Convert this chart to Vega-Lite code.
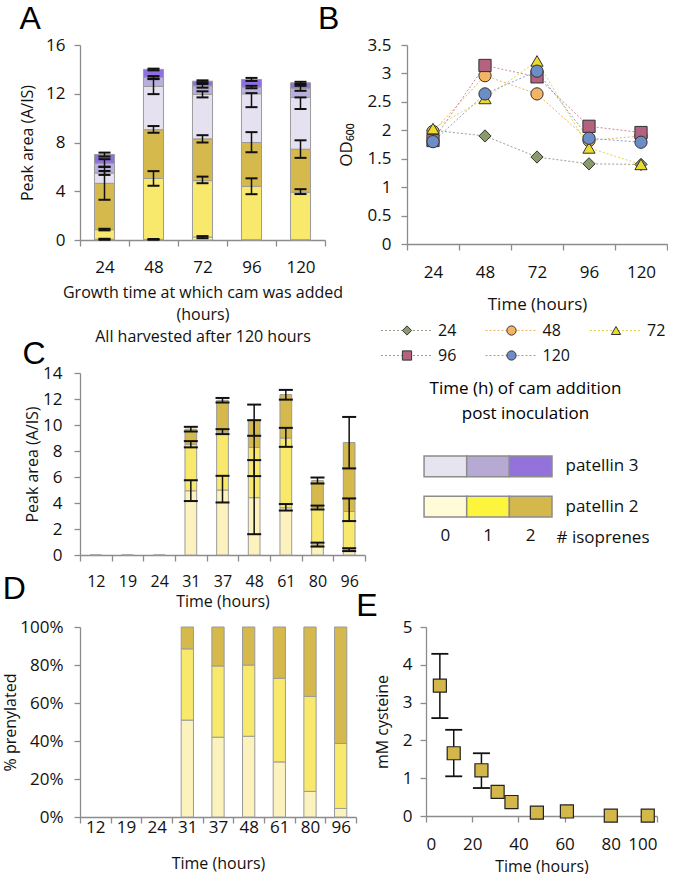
{
  "$schema": "https://vega.github.io/schema/vega-lite/v6.json",
  "padding": {"left": 2, "top": 3, "right": 0, "bottom": 0},
  "background": "white",
  "config": {
    "font": "Open Sans",
    "view": {"stroke": null},
    "axis": {"labelFont": "Open Sans", "titleFont": "Open Sans", "labelFontSize": 16, "titleFontSize": 16, "titleFontWeight": "normal", "labelColor": "#111", "titleColor": "#111", "domainColor": "#8c8c8c", "tickColor": "#8c8c8c", "grid": false, "tickSize": 6, "domainWidth": 1.3, "tickWidth": 1.3, "labelAngle": 0, "labelOverlap": false},
    "title": {"font": "Liberation Sans", "fontSize": 32, "fontWeight": "normal", "anchor": "start", "frame": "bounds", "color": "#000"}
  },
  "datasets": {
    "a": [
      {"time": "24", "seg": "p2_0", "order": 0, "value": 0.06, "lo": 0.02, "hi": 0.1},
      {"time": "24", "seg": "p2_1", "order": 1, "value": 0.79, "lo": 0.79, "hi": 0.92},
      {"time": "24", "seg": "p2_2", "order": 2, "value": 3.8, "lo": 3.3, "hi": 6.0},
      {"time": "24", "seg": "p3_0", "order": 3, "value": 0.85, "lo": 5.34, "hi": 5.66},
      {"time": "24", "seg": "p3_1", "order": 4, "value": 0.8, "lo": 6.01, "hi": 6.63},
      {"time": "24", "seg": "p3_2", "order": 5, "value": 0.72, "lo": 6.85, "hi": 7.17},
      {"time": "48", "seg": "p2_0", "order": 0, "value": 0.05, "lo": 0.02, "hi": 0.08},
      {"time": "48", "seg": "p2_1", "order": 1, "value": 5.0, "lo": 4.45, "hi": 5.65},
      {"time": "48", "seg": "p2_2", "order": 2, "value": 4.0, "lo": 8.8, "hi": 9.35},
      {"time": "48", "seg": "p3_0", "order": 3, "value": 3.55, "lo": 11.97, "hi": 13.2},
      {"time": "48", "seg": "p3_1", "order": 4, "value": 0.75, "lo": 13.25, "hi": 13.45},
      {"time": "48", "seg": "p3_2", "order": 5, "value": 0.65, "lo": 13.92, "hi": 14.06},
      {"time": "72", "seg": "p2_0", "order": 0, "value": 0.24, "lo": 0.15, "hi": 0.32},
      {"time": "72", "seg": "p2_1", "order": 1, "value": 4.63, "lo": 4.66, "hi": 5.2},
      {"time": "72", "seg": "p2_2", "order": 2, "value": 3.43, "lo": 8.0, "hi": 8.6},
      {"time": "72", "seg": "p3_0", "order": 3, "value": 3.65, "lo": 11.7, "hi": 12.2},
      {"time": "72", "seg": "p3_1", "order": 4, "value": 0.7, "lo": 12.5, "hi": 12.8},
      {"time": "72", "seg": "p3_2", "order": 5, "value": 0.38, "lo": 12.95, "hi": 13.1},
      {"time": "96", "seg": "p2_0", "order": 0, "value": 0.02, "lo": null, "hi": null},
      {"time": "96", "seg": "p2_1", "order": 1, "value": 4.38, "lo": 3.76, "hi": 5.06},
      {"time": "96", "seg": "p2_2", "order": 2, "value": 3.6, "lo": 7.2, "hi": 8.85},
      {"time": "96", "seg": "p3_0", "order": 3, "value": 4.0, "lo": 10.9, "hi": 12.05},
      {"time": "96", "seg": "p3_1", "order": 4, "value": 0.55, "lo": 12.45, "hi": 12.65},
      {"time": "96", "seg": "p3_2", "order": 5, "value": 0.62, "lo": 13.05, "hi": 13.3},
      {"time": "120", "seg": "p2_0", "order": 0, "value": 0.02, "lo": null, "hi": null},
      {"time": "120", "seg": "p2_1", "order": 1, "value": 3.9, "lo": 3.77, "hi": 4.17},
      {"time": "120", "seg": "p2_2", "order": 2, "value": 3.53, "lo": 6.74, "hi": 8.18},
      {"time": "120", "seg": "p3_0", "order": 3, "value": 4.25, "lo": 10.75, "hi": 11.7},
      {"time": "120", "seg": "p3_1", "order": 4, "value": 0.75, "lo": 12.24, "hi": 12.65},
      {"time": "120", "seg": "p3_2", "order": 5, "value": 0.45, "lo": 12.8, "hi": 12.98}
    ],
    "b": [
      {"series": "24", "time": "24", "od": 2.0}, {"series": "24", "time": "48", "od": 1.9}, {"series": "24", "time": "72", "od": 1.53}, {"series": "24", "time": "96", "od": 1.41}, {"series": "24", "time": "120", "od": 1.4},
      {"series": "48", "time": "24", "od": 1.98}, {"series": "48", "time": "48", "od": 2.96}, {"series": "48", "time": "72", "od": 2.64}, {"series": "48", "time": "96", "od": 1.82}, {"series": "48", "time": "120", "od": 1.9},
      {"series": "72", "time": "24", "od": 2.03}, {"series": "72", "time": "48", "od": 2.56}, {"series": "72", "time": "72", "od": 3.22}, {"series": "72", "time": "96", "od": 1.69}, {"series": "72", "time": "120", "od": 1.4},
      {"series": "96", "time": "24", "od": 1.82}, {"series": "96", "time": "48", "od": 3.14}, {"series": "96", "time": "72", "od": 2.94}, {"series": "96", "time": "96", "od": 2.07}, {"series": "96", "time": "120", "od": 1.96},
      {"series": "120", "time": "24", "od": 1.8}, {"series": "120", "time": "48", "od": 2.64}, {"series": "120", "time": "72", "od": 3.04}, {"series": "120", "time": "96", "od": 1.86}, {"series": "120", "time": "120", "od": 1.79}
    ],
    "bleg": [
      {"series": "24", "row": 1, "col": 1}, {"series": "48", "row": 1, "col": 2}, {"series": "72", "row": 1, "col": 3},
      {"series": "96", "row": 2, "col": 1}, {"series": "120", "row": 2, "col": 2}
    ],
    "hm": [
      {"protein": "patellin 3", "iso": "0", "key": "p3_0"}, {"protein": "patellin 3", "iso": "1", "key": "p3_1"}, {"protein": "patellin 3", "iso": "2", "key": "p3_2"},
      {"protein": "patellin 2", "iso": "0", "key": "p2_0"}, {"protein": "patellin 2", "iso": "1", "key": "p2_1"}, {"protein": "patellin 2", "iso": "2", "key": "p2_2"}
    ],
    "c": [
      {"time": "12", "seg": "p2_0", "order": 0, "value": 0, "lo": null, "hi": null},
      {"time": "19", "seg": "p2_0", "order": 0, "value": 0, "lo": null, "hi": null},
      {"time": "24", "seg": "p2_0", "order": 0, "value": 0, "lo": null, "hi": null},
      {"time": "31", "seg": "p2_0", "order": 0, "value": 4.94, "lo": 4.15, "hi": 5.75},
      {"time": "31", "seg": "p2_1", "order": 1, "value": 3.58, "lo": 8.28, "hi": 8.76},
      {"time": "31", "seg": "p2_2", "order": 2, "value": 1.16, "lo": 9.5, "hi": 9.86},
      {"time": "37", "seg": "p2_0", "order": 0, "value": 5.0, "lo": 4.04, "hi": 6.09},
      {"time": "37", "seg": "p2_1", "order": 1, "value": 4.46, "lo": 9.3, "hi": 9.68},
      {"time": "37", "seg": "p2_2", "order": 2, "value": 2.44, "lo": 11.73, "hi": 12.08},
      {"time": "48", "seg": "p2_0", "order": 0, "value": 4.41, "lo": 1.6, "hi": 7.3},
      {"time": "48", "seg": "p2_1", "order": 1, "value": 3.86, "lo": 6.07, "hi": 10.37},
      {"time": "48", "seg": "p2_2", "order": 2, "value": 2.1, "lo": 9.17, "hi": 11.57},
      {"time": "61", "seg": "p2_0", "order": 0, "value": 3.63, "lo": 3.42, "hi": 3.92},
      {"time": "61", "seg": "p2_1", "order": 1, "value": 5.37, "lo": 8.32, "hi": 9.78},
      {"time": "61", "seg": "p2_2", "order": 2, "value": 3.34, "lo": 11.95, "hi": 12.7},
      {"time": "80", "seg": "p2_0", "order": 0, "value": 0.77, "lo": 0.65, "hi": 0.95},
      {"time": "80", "seg": "p2_1", "order": 1, "value": 2.87, "lo": 3.5, "hi": 3.8},
      {"time": "80", "seg": "p2_2", "order": 2, "value": 2.08, "lo": 5.5, "hi": 5.96},
      {"time": "96", "seg": "p2_0", "order": 0, "value": 0.39, "lo": 0.3, "hi": 0.52},
      {"time": "96", "seg": "p2_1", "order": 1, "value": 2.96, "lo": 2.61, "hi": 4.35},
      {"time": "96", "seg": "p2_2", "order": 2, "value": 5.3, "lo": 6.66, "hi": 10.62}
    ],
    "d": [
      {"time": "31", "seg": "p2_0", "order": 0, "pct": 0.51}, {"time": "31", "seg": "p2_1", "order": 1, "pct": 0.375}, {"time": "31", "seg": "p2_2", "order": 2, "pct": 0.115},
      {"time": "37", "seg": "p2_0", "order": 0, "pct": 0.42}, {"time": "37", "seg": "p2_1", "order": 1, "pct": 0.375}, {"time": "37", "seg": "p2_2", "order": 2, "pct": 0.205},
      {"time": "48", "seg": "p2_0", "order": 0, "pct": 0.425}, {"time": "48", "seg": "p2_1", "order": 1, "pct": 0.375}, {"time": "48", "seg": "p2_2", "order": 2, "pct": 0.2},
      {"time": "61", "seg": "p2_0", "order": 0, "pct": 0.29}, {"time": "61", "seg": "p2_1", "order": 1, "pct": 0.44}, {"time": "61", "seg": "p2_2", "order": 2, "pct": 0.27},
      {"time": "80", "seg": "p2_0", "order": 0, "pct": 0.135}, {"time": "80", "seg": "p2_1", "order": 1, "pct": 0.5}, {"time": "80", "seg": "p2_2", "order": 2, "pct": 0.365},
      {"time": "96", "seg": "p2_0", "order": 0, "pct": 0.045}, {"time": "96", "seg": "p2_1", "order": 1, "pct": 0.342}, {"time": "96", "seg": "p2_2", "order": 2, "pct": 0.613}
    ],
    "e": [
      {"t": 6, "cys": 3.45, "lo": 2.59, "hi": 4.29},
      {"t": 12, "cys": 1.66, "lo": 1.05, "hi": 2.28},
      {"t": 24, "cys": 1.21, "lo": 0.74, "hi": 1.66},
      {"t": 31, "cys": 0.64, "lo": null, "hi": null},
      {"t": 37, "cys": 0.37, "lo": null, "hi": null},
      {"t": 48, "cys": 0.09, "lo": null, "hi": null},
      {"t": 61, "cys": 0.12, "lo": null, "hi": null},
      {"t": 80, "cys": 0.01, "lo": null, "hi": null},
      {"t": 96, "cys": 0.01, "lo": null, "hi": null}
    ]
  },
  "resolve": {"scale": {"fill": "independent", "stroke": "independent", "shape": "independent", "color": "independent"}},
  "spacing": -36,
  "vconcat": [
    {
      "resolve": {"scale": {"fill": "independent", "stroke": "independent", "shape": "independent", "color": "independent"}},
      "spacing": -48,
      "hconcat": [
        {
          "resolve": {"scale": {"fill": "independent", "stroke": "independent", "shape": "independent", "color": "independent"}},
          "spacing": -6,
          "vconcat": [
            {
              "title": {"text": "A", "offset": 0},
              "width": 245, "height": 195,
              "data": {"name": "a"},
              "encoding": {
                "x": {"field": "time", "type": "ordinal", "sort": ["24", "48", "72", "96", "120"], "scale": {"type": "band", "paddingInner": 0, "paddingOuter": 0},
                  "axis": {"tickBand": "extent", "labelPadding": 13, "labelFontSize": 17, "title": ["Growth time at which cam was added", "(hours)", "All harvested after 120 hours"], "titlePadding": 9, "titleLineHeight": 22}}
              },
              "layer": [
                {"mark": {"type": "bar", "width": {"band": 0.41}, "stroke": "#9a9a9a", "strokeWidth": 1},
                 "encoding": {
                   "y": {"field": "value", "type": "quantitative", "stack": "zero", "title": "Peak area (A/IS)", "scale": {"domain": [0, 16]}, "axis": {"values": [0, 4, 8, 12, 16], "labelPadding": 9, "titlePadding": 10, "labelFontSize": 17}},
                   "order": {"field": "order", "type": "quantitative"},
                   "fill": {"field": "seg", "type": "nominal", "scale": {"domain": ["p2_0", "p2_1", "p2_2", "p3_0", "p3_1", "p3_2"], "range": ["#fbf2bd", "#f8e96c", "#d5b94c", "#e5e1f1", "#b9afdb", "#8f70e0"]}, "legend": null}
                 }},
                {"transform": [{"filter": "datum.lo != null"}], "mark": {"type": "rule", "color": "#111", "strokeWidth": 1.5},
                 "encoding": {"y": {"field": "lo", "type": "quantitative", "title": "Peak area (A/IS)", "axis": {"values": [0, 4, 8, 12, 16], "labelPadding": 9, "titlePadding": 10, "labelFontSize": 17}}, "y2": {"field": "hi"}}},
                {"transform": [{"filter": "datum.lo != null"}], "mark": {"type": "tick", "color": "#111", "thickness": 2, "size": 12, "opacity": 1},
                 "encoding": {"y": {"field": "lo", "type": "quantitative", "title": "Peak area (A/IS)", "axis": {"values": [0, 4, 8, 12, 16], "labelPadding": 9, "titlePadding": 10, "labelFontSize": 17}}}},
                {"transform": [{"filter": "datum.lo != null"}], "mark": {"type": "tick", "color": "#111", "thickness": 2, "size": 12, "opacity": 1},
                 "encoding": {"y": {"field": "hi", "type": "quantitative", "title": "Peak area (A/IS)", "axis": {"values": [0, 4, 8, 12, 16], "labelPadding": 9, "titlePadding": 10, "labelFontSize": 17}}}}
              ]
            },
            {
              "title": {"text": "C", "offset": -7, "dx": -2},
              "width": 285, "height": 182,
              "data": {"name": "c"},
              "encoding": {
                "x": {"field": "time", "type": "ordinal", "sort": ["12", "19", "24", "31", "37", "48", "61", "80", "96"], "scale": {"type": "band", "paddingInner": 0, "paddingOuter": 0},
                  "axis": {"tickBand": "extent", "labelPadding": 12, "labelFontSize": 16, "title": "Time (hours)", "titlePadding": 4}}
              },
              "layer": [
                {"mark": {"type": "bar", "width": {"band": 0.37}, "stroke": "#9a9a9a", "strokeWidth": 1},
                 "encoding": {
                   "y": {"field": "value", "type": "quantitative", "stack": "zero", "title": "Peak area (A/IS)", "scale": {"domain": [0, 14]}, "axis": {"values": [0, 2, 4, 6, 8, 10, 12, 14], "labelPadding": 12, "titlePadding": 2, "labelFontSize": 17}},
                   "order": {"field": "order", "type": "quantitative"},
                   "fill": {"field": "seg", "type": "nominal", "scale": {"domain": ["p2_0", "p2_1", "p2_2"], "range": ["#fbf2bd", "#f8e96c", "#d5b94c"]}, "legend": null}
                 }},
                {"transform": [{"filter": "datum.lo != null"}], "mark": {"type": "rule", "color": "#111", "strokeWidth": 1.5},
                 "encoding": {"y": {"field": "lo", "type": "quantitative", "title": "Peak area (A/IS)", "axis": {"values": [0, 2, 4, 6, 8, 10, 12, 14], "labelPadding": 12, "titlePadding": 2, "labelFontSize": 17}}, "y2": {"field": "hi"}}},
                {"transform": [{"filter": "datum.lo != null"}], "mark": {"type": "tick", "color": "#111", "thickness": 2, "size": 14, "opacity": 1},
                 "encoding": {"y": {"field": "lo", "type": "quantitative", "title": "Peak area (A/IS)", "axis": {"values": [0, 2, 4, 6, 8, 10, 12, 14], "labelPadding": 12, "titlePadding": 2, "labelFontSize": 17}}}},
                {"transform": [{"filter": "datum.lo != null"}], "mark": {"type": "tick", "color": "#111", "thickness": 2, "size": 14, "opacity": 1},
                 "encoding": {"y": {"field": "hi", "type": "quantitative", "title": "Peak area (A/IS)", "axis": {"values": [0, 2, 4, 6, 8, 10, 12, 14], "labelPadding": 12, "titlePadding": 2, "labelFontSize": 17}}}}
              ]
            }
          ]
        },
        {
          "resolve": {"scale": {"fill": "independent", "stroke": "independent", "shape": "independent", "color": "independent"}},
          "spacing": 6,
          "vconcat": [
            {
              "title": {"text": "B", "offset": 0, "dx": -19},
              "width": 260, "height": 199,
              "data": {"name": "b"},
              "encoding": {
                "x": {"field": "time", "type": "ordinal", "sort": ["24", "48", "72", "96", "120"], "scale": {"type": "band", "paddingInner": 0, "paddingOuter": 0},
                  "axis": {"tickBand": "extent", "labelPadding": 14, "labelFontSize": 17, "title": "Time (hours)", "titlePadding": 16, "titleFontSize": 17}},
                "y": {"field": "od", "type": "quantitative", "title": "OD₆₀₀", "scale": {"domain": [0, 3.5]}, "axis": {"values": [0, 0.5, 1, 1.5, 2, 2.5, 3, 3.5], "format": "~g", "labelPadding": 10, "titlePadding": 12, "labelFontSize": 17, "titleFontSize": 17}}
              },
              "layer": [
                {"mark": {"type": "line", "strokeWidth": 1, "strokeDash": [2, 2]},
                 "encoding": {"stroke": {"field": "series", "type": "nominal", "scale": {"domain": ["24", "48", "72", "96", "120"], "range": ["#9aa08a", "#f0b468", "#e4d64a", "#c7889f", "#8aa2cf"]}, "legend": null}}},
                {"mark": {"type": "point", "filled": true, "stroke": "#333", "strokeWidth": 1, "size": 150, "opacity": 1},
                 "encoding": {
                   "shape": {"field": "series", "type": "nominal", "scale": {"domain": ["24", "48", "72", "96", "120"], "range": ["diamond", "circle", "triangle-up", "square", "circle"]}, "legend": null},
                   "fill": {"field": "series", "type": "nominal", "scale": {"domain": ["24", "48", "72", "96", "120"], "range": ["#8b9a6b", "#f3b464", "#e9dc2c", "#b3627f", "#6d8dc6"]}, "legend": null}
                 }}
              ]
            },
            {
              "width": 209, "height": 56,
              "data": {"name": "bleg"},
              "encoding": {
                "x": {"field": "col", "type": "ordinal", "scale": {"type": "point", "padding": 0}, "axis": null},
                "y": {"field": "row", "type": "ordinal", "scale": {"type": "band", "paddingInner": 0, "paddingOuter": 0.12, "align": 0}, "axis": null}
              },
              "layer": [
                {"mark": {"type": "point", "shape": "M-1,0L1,0", "size": 2704, "strokeDash": [2, 2], "strokeWidth": 1, "filled": false, "opacity": 1},
                 "encoding": {"stroke": {"field": "series", "type": "nominal", "scale": {"domain": ["24", "48", "72", "96", "120"], "range": ["#9aa08a", "#f0b468", "#e4d64a", "#c7889f", "#8aa2cf"]}, "legend": null}}},
                {"mark": {"type": "point", "filled": true, "stroke": "#333", "strokeWidth": 1, "size": 85, "opacity": 1},
                 "encoding": {
                   "shape": {"field": "series", "type": "nominal", "scale": {"domain": ["24", "48", "72", "96", "120"], "range": ["diamond", "circle", "triangle-up", "square", "circle"]}, "legend": null},
                   "fill": {"field": "series", "type": "nominal", "scale": {"domain": ["24", "48", "72", "96", "120"], "range": ["#8b9a6b", "#f3b464", "#e9dc2c", "#b3627f", "#6d8dc6"]}, "legend": null}
                 }},
                {"mark": {"type": "text", "align": "left", "baseline": "middle", "dx": 31, "fontSize": 16, "font": "Open Sans", "color": "#111"},
                 "encoding": {"text": {"field": "series", "type": "nominal"}}}
              ]
            },
            {
              "title": {"text": ["Time (h) of cam addition", "post inoculation"], "font": "Open Sans", "fontSize": 17, "anchor": "middle", "frame": "group", "lineHeight": 25, "dx": 46, "offset": 32},
              "width": 145, "height": 61,
              "data": {"name": "hm"},
              "mark": {"type": "rect", "stroke": "#8c8c8c", "strokeWidth": 1.5},
              "encoding": {
                "x": {"field": "iso", "type": "ordinal", "scale": {"type": "band", "paddingInner": 0, "paddingOuter": 0.2, "align": 1},
                  "axis": {"domain": false, "ticks": false, "labelPadding": 10, "labelFontSize": 17, "title": "# isoprenes", "titleX": 149, "titleY": 20, "titleAlign": "left", "titleBaseline": "middle", "titleFontSize": 17}},
                "y": {"field": "protein", "type": "ordinal", "sort": ["patellin 3", "patellin 2"], "scale": {"paddingInner": 0.48, "paddingOuter": 0},
                  "axis": {"orient": "right", "domain": false, "ticks": false, "labelPadding": 13, "labelFontSize": 17, "title": null}},
                "fill": {"field": "key", "type": "nominal", "scale": {"domain": ["p3_0", "p3_1", "p3_2", "p2_0", "p2_1", "p2_2"], "range": ["#e6e4ee", "#b6a9d3", "#9372dc", "#fffbd6", "#fdf43c", "#d5b84c"]}, "legend": null}
              }
            }
          ]
        }
      ]
    },
    {
      "resolve": {"scale": {"fill": "independent", "stroke": "independent", "shape": "independent", "color": "independent"}},
      "spacing": -1,
      "hconcat": [
        {
          "title": {"text": "D", "offset": 12},
          "width": 276, "height": 190,
          "data": {"name": "d"},
          "mark": {"type": "bar", "width": {"band": 0.4}, "stroke": "#9a9a9a", "strokeWidth": 1},
          "encoding": {
            "x": {"field": "time", "type": "ordinal", "scale": {"type": "band", "domain": ["12", "19", "24", "31", "37", "48", "61", "80", "96"], "paddingInner": 0, "paddingOuter": 0},
              "axis": {"tickBand": "extent", "labelPadding": -4, "labelFontSize": 17, "title": "Time (hours)", "titlePadding": 20}},
            "y": {"field": "pct", "type": "quantitative", "stack": "zero", "title": "% prenylated", "scale": {"domain": [0, 1]}, "axis": {"values": [0, 0.2, 0.4, 0.6, 0.8, 1], "format": ".0%", "labelPadding": 11, "titlePadding": 1, "labelFontSize": 17}},
            "order": {"field": "order", "type": "quantitative"},
            "fill": {"field": "seg", "type": "nominal", "scale": {"domain": ["p2_0", "p2_1", "p2_2"], "range": ["#fbf2bd", "#f8e96c", "#d5b94c"]}, "legend": null}
          }
        },
        {
          "title": {"text": "E", "offset": -5, "dx": -18},
          "width": 231, "height": 189,
          "data": {"name": "e"},
          "encoding": {
            "x": {"field": "t", "type": "quantitative", "title": "Time (hours)", "scale": {"domain": [0, 100], "nice": false}, "axis": {"values": [0, 20, 40, 60, 80, 100], "labelPadding": 14, "titlePadding": 6, "labelFontSize": 17}}
          },
          "layer": [
            {"transform": [{"filter": "datum.lo != null"}], "mark": {"type": "rule", "color": "#111", "strokeWidth": 1.5},
             "encoding": {"y": {"field": "lo", "type": "quantitative", "title": "mM cysteine", "scale": {"domain": [0, 5]}, "axis": {"values": [0, 1, 2, 3, 4, 5], "labelPadding": 8, "titlePadding": 12, "labelFontSize": 17}}, "y2": {"field": "hi"}}},
            {"transform": [{"filter": "datum.lo != null"}], "mark": {"type": "tick", "orient": "horizontal", "color": "#111", "thickness": 1.8, "size": 17, "opacity": 1},
             "encoding": {"y": {"field": "lo", "type": "quantitative", "title": "mM cysteine", "axis": {"values": [0, 1, 2, 3, 4, 5], "labelPadding": 8, "titlePadding": 12, "labelFontSize": 17}}}},
            {"transform": [{"filter": "datum.lo != null"}], "mark": {"type": "tick", "orient": "horizontal", "color": "#111", "thickness": 1.8, "size": 17, "opacity": 1},
             "encoding": {"y": {"field": "hi", "type": "quantitative", "title": "mM cysteine", "axis": {"values": [0, 1, 2, 3, 4, 5], "labelPadding": 8, "titlePadding": 12, "labelFontSize": 17}}}},
            {"mark": {"type": "point", "shape": "square", "filled": true, "fill": "#d4b74b", "stroke": "#222", "strokeWidth": 1.2, "size": 170, "opacity": 1},
             "encoding": {"y": {"field": "cys", "type": "quantitative", "title": "mM cysteine", "axis": {"values": [0, 1, 2, 3, 4, 5], "labelPadding": 8, "titlePadding": 12, "labelFontSize": 17}}}}
          ]
        }
      ]
    }
  ]
}
